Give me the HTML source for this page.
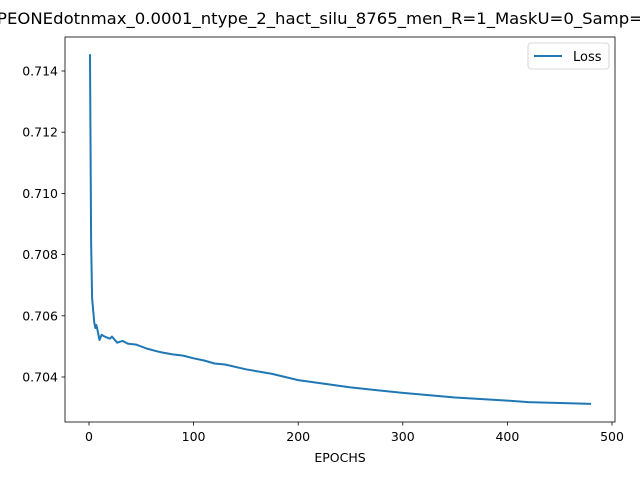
<!DOCTYPE html>
<html><head><meta charset="utf-8"><style>body{margin:0;background:#fff}svg{font-family:"DejaVu Sans","Liberation Sans",sans-serif}</style></head>
<body>
<svg id="chart" width="640" height="480" viewBox="0 0 640 480" xmlns="http://www.w3.org/2000/svg">
<rect width="640" height="480" fill="#fff"/>
<text x="-3" y="24" font-size="16" textLength="646" lengthAdjust="spacingAndGlyphs">PEONEdotnmax_0.0001_ntype_2_hact_silu_8765_men_R=1_MaskU=0_Samp=</text>
<g id="ticks"></g>
<path id="line" fill="none" stroke="#1f77b4" stroke-width="2" stroke-linejoin="round"/>
<rect x="65" y="37" width="550" height="385" fill="none" stroke="#000" stroke-width="0.8"/>
<text x="340" y="462" font-size="12.5" text-anchor="middle">EPOCHS</text>
<g>
<rect x="528" y="43" width="81" height="26" rx="3" fill="#fff" stroke="#ccc" stroke-width="0.8"/>
<line x1="534" y1="56" x2="562" y2="56" stroke="#1f77b4" stroke-width="2"/>
<text x="573" y="61" font-size="13">Loss</text>
</g>
</svg>
<script>
const epochs=[1,2,3,5,6,7,8,10,12,15,20,22,27,32,37,45,55,65,70,80,90,100,110,120,130,150,175,200,250,300,350,400,420,480];
const lossValues=[0.71455,0.70845,0.70658,0.7058,0.7056,0.7057,0.70555,0.70521,0.70538,0.70532,0.70525,0.70532,0.70512,0.70518,0.70509,0.70506,0.70493,0.70484,0.7048,0.70474,0.7047,0.70461,0.70454,0.70444,0.70441,0.70425,0.70410,0.70390,0.70366,0.70348,0.70333,0.70323,0.70318,0.70312];
const xTicks=[0,100,200,300,400,500];
const yTicks=[0.704,0.706,0.708,0.710,0.712,0.714];
const X=v=>89+(v)*1.046;
const Y=v=>377-(v-0.704)*30600;
const ns="http://www.w3.org/2000/svg";
const tg=document.getElementById('ticks');
xTicks.forEach(t=>{
 const l=document.createElementNS(ns,'line');
 
 
 l.setAttribute('x1',X(t));l.setAttribute('x2',X(t));l.setAttribute('y1',422);l.setAttribute('y2',425.5);l.setAttribute('stroke','#000');l.setAttribute('stroke-width','0.8');tg.appendChild(l);
 const s=document.createElementNS(ns,'text');
 
 
 s.setAttribute('x',X(t));s.setAttribute('y',441);s.setAttribute('font-size','12.5');s.setAttribute('text-anchor','middle');s.textContent=t;tg.appendChild(s);
});
yTicks.forEach(t=>{
 const l=document.createElementNS(ns,'line');
 
 
 l.setAttribute('x1',61.5);l.setAttribute('x2',65);l.setAttribute('y1',Y(t));l.setAttribute('y2',Y(t));l.setAttribute('stroke','#000');l.setAttribute('stroke-width','0.8');tg.appendChild(l);
 const s=document.createElementNS(ns,'text');
 
 
 s.setAttribute('x',58);s.setAttribute('y',Y(t)+4.5);s.setAttribute('font-size','12.5');s.setAttribute('text-anchor','end');s.textContent=t.toFixed(3);tg.appendChild(s);
});
document.getElementById('line').setAttribute('d',epochs.map((e,i)=>(i?'L':'M')+X(e).toFixed(1)+' '+Y(lossValues[i]).toFixed(1)).join(' '));
</script>
</body></html>
